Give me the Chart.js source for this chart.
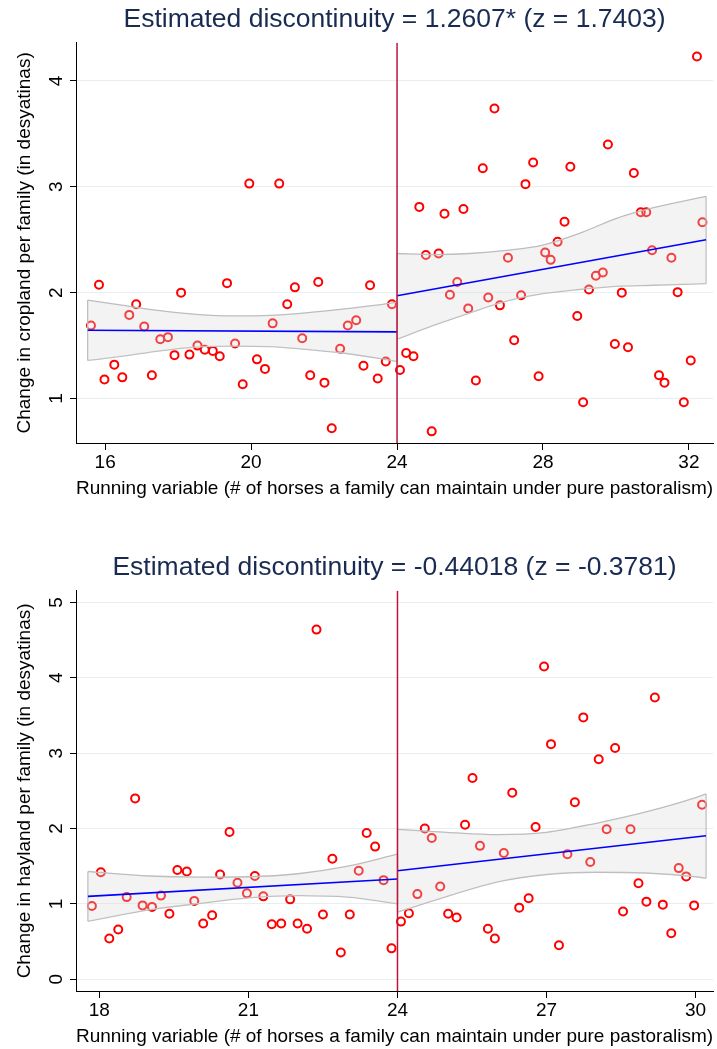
<!DOCTYPE html>
<html lang="en">
<head>
<meta charset="UTF-8" />
<title>RD plots: cropland and hayland</title>
<script src="https://cdn.jsdelivr.net/npm/chart.js"></script>
<style>
  html, body { margin: 0; background: #fff; overflow: hidden; }
  canvas { position: absolute; left: 0; }
</style>
</head>
<body>
<!-- canvases are wider than the window so the title centres over the plot area -->
<canvas id="crop" width="789" height="501" style="top:0"></canvas>
<canvas id="hay" width="789" height="501" style="top:548px"></canvas>
<script>
// ---- cropland (top panel) ----
const cropTitle = 'Estimated discontinuity = 1.2607* (z = 1.7403)';
const cropYTitle = 'Change in cropland per family (in desyatinas)';
const cropXTicks = [16, 20, 24, 28, 32];
const cropYTicks = [1, 2, 3, 4];
const cropX = [15.61, 15.83, 15.98, 16.25, 16.47, 16.66, 16.85, 17.07, 17.28, 17.51, 17.72, 17.90, 18.08, 18.31, 18.53, 18.73, 18.95, 19.14, 19.34, 19.56, 19.77, 19.95, 20.16, 20.38, 20.59, 20.77, 20.99, 21.20, 21.40, 21.62, 21.84, 22.01, 22.21, 22.44, 22.65, 22.88, 23.08, 23.26, 23.47, 23.69, 23.86,
  24.08, 24.25, 24.45, 24.61, 24.79, 24.95, 25.14, 25.30, 25.45, 25.65, 25.82, 25.95, 26.16, 26.35, 26.50, 26.67, 26.82, 27.04, 27.21, 27.40, 27.52, 27.73, 27.88, 28.06, 28.21, 28.40, 28.59, 28.75, 28.94, 29.10, 29.26, 29.45, 29.64, 29.78, 29.97, 30.16, 30.33, 30.49, 30.68, 30.83, 30.99, 31.18, 31.33, 31.52, 31.69, 31.86, 32.05, 32.22, 32.37];
const cropY = [1.69, 2.075, 1.18, 1.32, 1.20, 1.79, 1.89, 1.68, 1.22, 1.56, 1.58, 1.41, 2.00, 1.415, 1.50, 1.46, 1.45, 1.40, 2.09, 1.52, 1.135, 3.03, 1.37, 1.28, 1.71, 3.03, 1.89, 2.05, 1.57, 1.22, 2.10, 1.15, 0.72, 1.47, 1.69, 1.74, 1.31, 2.07, 1.19, 1.35, 1.89,
  1.27, 1.43, 1.40, 2.81, 2.355, 0.69, 2.37, 2.745, 1.98, 2.10, 2.79, 1.85, 1.17, 3.175, 1.955, 3.74, 1.88, 2.33, 1.55, 1.975, 3.025, 3.23, 1.21, 2.38, 2.31, 2.48, 2.67, 3.19, 1.78, 0.965, 2.03, 2.16, 2.19, 3.40, 1.515, 2.00, 1.485, 3.13, 2.76, 2.76, 2.40, 1.22, 1.15, 2.33, 2.005, 0.965, 1.36, 4.23, 2.665];
const cropLeftFitX = [15.52, 24];
const cropLeftFitY = [1.645, 1.63];
const cropRightFitX = [24, 32.47];
const cropRightFitY = [1.97, 2.50];
const cropLeftBandX = [15.52, 16.5, 17.5, 18.5, 19.5, 20.5, 21.5, 22.5, 23.5, 24];
const cropLeftBandHi = [1.93, 1.88, 1.83, 1.795, 1.78, 1.785, 1.81, 1.845, 1.885, 1.91];
const cropLeftBandLo = [1.36, 1.40, 1.45, 1.485, 1.495, 1.49, 1.465, 1.43, 1.38, 1.35];
const cropRightBandX = [24, 25, 26, 27, 28, 29, 30, 31, 32.47];
const cropRightBandHi = [2.37, 2.36, 2.37, 2.40, 2.45, 2.56, 2.70, 2.80, 2.91];
const cropRightBandLo = [1.56, 1.69, 1.81, 1.92, 1.99, 2.03, 2.06, 2.07, 2.085];

// ---- hayland (bottom panel) ----
const hayTitle = 'Estimated discontinuity = -0.44018 (z = -0.3781)';
const hayYTitle = 'Change in hayland per family (in desyatinas)';
const hayXTicks = [18, 21, 24, 27, 30];
const hayYTicks = [0, 1, 2, 3, 4, 5];
const hayX = [17.85, 18.03, 18.20, 18.38, 18.55, 18.72, 18.87, 19.06, 19.24, 19.41, 19.57, 19.76, 19.91, 20.09, 20.27, 20.43, 20.62, 20.78, 20.97, 21.13, 21.30, 21.47, 21.66, 21.84, 21.99, 22.18, 22.37, 22.50, 22.69, 22.86, 23.04, 23.22, 23.38, 23.55, 23.72, 23.88,
  24.07, 24.23, 24.40, 24.55, 24.69, 24.86, 25.02, 25.19, 25.36, 25.51, 25.66, 25.82, 25.96, 26.14, 26.31, 26.45, 26.64, 26.78, 26.95, 27.09, 27.25, 27.42, 27.57, 27.74, 27.88, 28.05, 28.21, 28.38, 28.54, 28.69, 28.85, 29.01, 29.18, 29.34, 29.51, 29.66, 29.81, 29.97, 30.13];
const hayY = [0.973, 1.42, 0.54, 0.66, 1.09, 2.40, 0.98, 0.96, 1.11, 0.87, 1.45, 1.43, 1.04, 0.74, 0.85, 1.39, 1.955, 1.28, 1.14, 1.37, 1.10, 0.73, 0.74, 1.06, 0.74, 0.67, 4.64, 0.86, 1.60, 0.355, 0.86, 1.44, 1.94, 1.76, 1.315, 0.41,
  0.765, 0.875, 1.13, 2.00, 1.875, 1.23, 0.87, 0.82, 2.05, 2.67, 1.77, 0.67, 0.54, 1.675, 2.475, 0.95, 1.075, 2.02, 4.15, 3.12, 0.45, 1.66, 2.35, 3.475, 1.555, 2.92, 1.99, 3.07, 0.90, 1.99, 1.275, 1.03, 3.74, 0.99, 0.61, 1.475, 1.365, 0.98, 2.315];
const hayLeftFitX = [17.77, 24];
const hayLeftFitY = [1.10, 1.33];
const hayRightFitX = [24, 30.21];
const hayRightFitY = [1.44, 1.905];
const hayLeftBandX = [17.77, 19, 20, 21, 22, 23, 24];
const hayLeftBandHi = [1.43, 1.37, 1.355, 1.36, 1.40, 1.50, 1.66];
const hayLeftBandLo = [0.77, 0.92, 1.005, 1.08, 1.11, 1.09, 1.00];
const hayRightBandX = [24, 25, 26, 27, 28, 29, 30, 30.21];
const hayRightBandHi = [1.99, 1.95, 1.92, 1.95, 2.07, 2.22, 2.41, 2.46];
const hayRightBandLo = [0.89, 1.10, 1.29, 1.39, 1.42, 1.41, 1.36, 1.34];

const FONT = '"Liberation Sans", Arial, sans-serif';
const cutoff = 24;

function xy(xs, ys) {
  return xs.map((x, i) => ({ x: x, y: ys[i] }));
}

function line(data, color, width, order) {
  return { type: 'line', data: data, showLine: true, borderColor: color, borderWidth: width,
    pointRadius: 0, fill: false, order: order };
}

function band(xs, hi, lo) {
  const n = xs.length - 1;
  const edge = '#bdbdbd';
  return [
    { type: 'line', data: xy(xs, hi), showLine: true, borderColor: edge, borderWidth: 1.3, pointRadius: 0,
      cubicInterpolationMode: 'monotone', fill: '+1', backgroundColor: 'rgba(215,215,215,0.3)', order: 2 },
    { type: 'line', data: xy(xs, lo), showLine: true, borderColor: edge, borderWidth: 1.3, pointRadius: 0,
      cubicInterpolationMode: 'monotone', fill: false, order: 2 },
    line([{ x: xs[0], y: lo[0] }, { x: xs[0], y: hi[0] }], edge, 1.3, 2),
    line([{ x: xs[n], y: lo[n] }, { x: xs[n], y: hi[n] }], edge, 1.3, 2)
  ];
}

function makeChart(id, p) {
  const datasets = [
    line([{ x: cutoff, y: p.yMin }, { x: cutoff, y: p.yMax }], '#c0143c', 1.5, 0),
    line(xy(p.lfx, p.lfy), '#0000ff', 1.6, 1),
    line(xy(p.rfx, p.rfy), '#0000ff', 1.6, 1),
    ...band(p.lbx, p.lbh, p.lbl),
    ...band(p.rbx, p.rbh, p.rbl),
    { type: 'scatter', data: xy(p.x, p.y), pointRadius: 4, borderWidth: 2, borderColor: '#ff0000',
      backgroundColor: 'rgba(0,0,0,0)', order: 3 }
  ];
  return new Chart(document.getElementById(id), {
    type: 'scatter',
    data: { datasets: datasets },
    options: {
      responsive: false,
      animation: false,
      layout: { padding: 0 },
      plugins: {
        legend: { display: false },
        tooltip: { enabled: false },
        title: { display: true, text: p.title, color: '#1a2b52',
          font: { family: FONT, size: 26.5, weight: 'normal' }, padding: { top: 4, bottom: 7 } }
      },
      scales: {
        x: {
          type: 'linear', min: p.xMin, max: p.xMax,
          afterBuildTicks: s => { s.ticks = p.xTicks.map(v => ({ value: v })); },
          afterFit: s => { s.height = 58; },
          grid: { drawOnChartArea: false, tickLength: 7, tickColor: '#000' },
          border: { color: '#000', width: 1 },
          ticks: { color: '#000', font: { family: FONT, size: 19 }, padding: 1, maxRotation: 0 },
          title: { display: true, text: 'Running variable (# of horses a family can maintain under pure pastoralism)',
            color: '#000', font: { family: FONT, size: 19 }, padding: { top: 0, bottom: 1 } }
        },
        y: {
          type: 'linear', min: p.yMin, max: p.yMax,
          afterBuildTicks: s => { s.ticks = p.yTicks.map(v => ({ value: v })); },
          afterFit: s => { s.width = 76; },
          grid: { color: '#e8eff1', lineWidth: 1, tickLength: 6, tickColor: '#000' },
          border: { color: '#000', width: 1 },
          ticks: { color: '#000', font: { family: FONT, size: 19 }, padding: 8, minRotation: 90, maxRotation: 90,
            crossAlign: 'center' },
          title: { display: true, text: p.yTitle, color: '#000', font: { family: FONT, size: 19 },
            padding: { top: 13, bottom: 0 } }
        },
        // empty right-hand box, same width as the y axis, so the title is centred over the plot
        spacer: {
          type: 'linear', position: 'right', min: 0, max: 1,
          afterFit: s => { s.width = 76; },
          grid: { display: false }, border: { display: false }, ticks: { display: false }
        }
      }
    }
  });
}

makeChart('crop', {
  title: cropTitle, yTitle: cropYTitle, xTicks: cropXTicks, yTicks: cropYTicks,
  xMin: 15.2, xMax: 32.66, yMin: 0.58, yMax: 4.36,
  x: cropX, y: cropY,
  lfx: cropLeftFitX, lfy: cropLeftFitY, rfx: cropRightFitX, rfy: cropRightFitY,
  lbx: cropLeftBandX, lbh: cropLeftBandHi, lbl: cropLeftBandLo,
  rbx: cropRightBandX, rbh: cropRightBandHi, rbl: cropRightBandLo
});

makeChart('hay', {
  title: hayTitle, yTitle: hayYTitle, xTicks: hayXTicks, yTicks: hayYTicks,
  xMin: 17.53, xMax: 30.35, yMin: -0.156, yMax: 5.155,
  x: hayX, y: hayY,
  lfx: hayLeftFitX, lfy: hayLeftFitY, rfx: hayRightFitX, rfy: hayRightFitY,
  lbx: hayLeftBandX, lbh: hayLeftBandHi, lbl: hayLeftBandLo,
  rbx: hayRightBandX, rbh: hayRightBandHi, rbl: hayRightBandLo
});
</script>
</body>
</html>
